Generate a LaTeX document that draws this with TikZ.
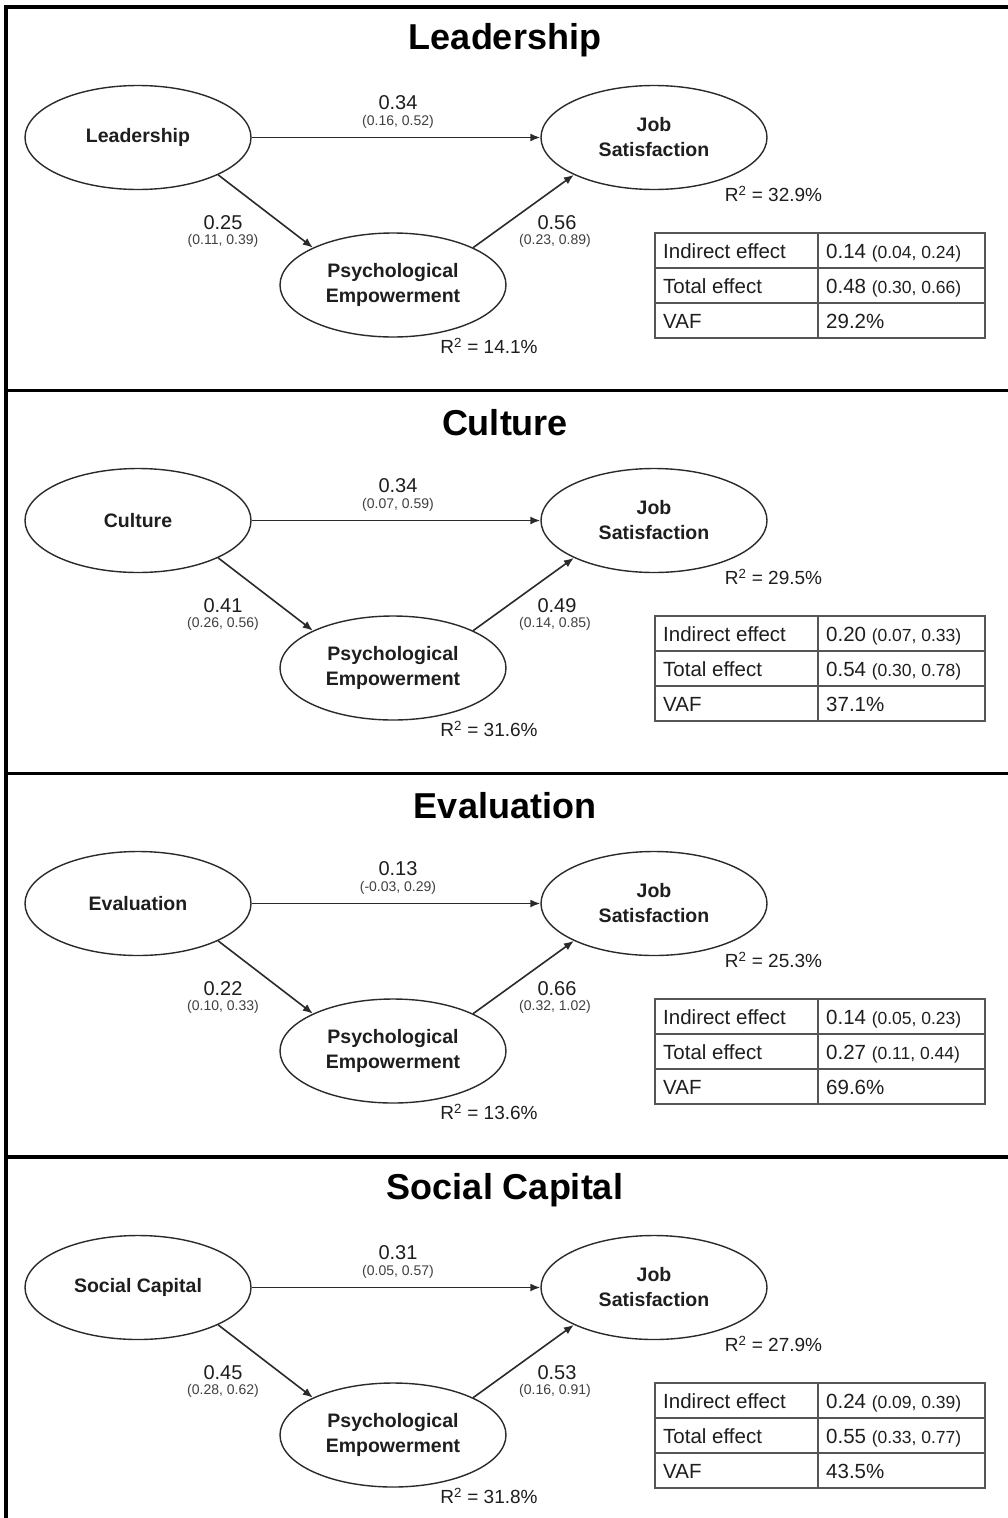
\documentclass[tikz,border=0pt]{standalone}
\usepackage{fontspec}
\setmainfont{Liberation Sans}
\usetikzlibrary{shapes.geometric,arrows.meta}
\definecolor{txt}{HTML}{1E1E1E}
\definecolor{linec}{HTML}{2A2A2A}
\definecolor{tabc}{HTML}{555555}

\newcommand\mypanel[9]{%
  \node[ttl] (t#9) at (505,40) {#1};
  \node[lat] (l#9) at (138,137.5) {\raisebox{-2pt}{#2}};
  \node[lat] (j#9) at (654,137.5) {Job\\Satisfaction};
  \node[lat] (p#9) at (393,285) {Psychological\\Empowerment};
  \draw[pth] (l#9.east) -- (j#9.west);
  \draw[pth] (l#9.-25) -- (p#9.155);
  \draw[pth] (p#9.25) -- (j#9.205);
  \node[coef] (ca#9) at (398,103) {#3};
  \node[ci] (cb#9) at (398,122) {#4};
  \node[coef] (cc#9) at (223,222.5) {#5};
  \node[ci] (cd#9) at (223,240.5) {#6};
  \node[coef] (ce#9) at (557,222.5) {#7};
  \node[ci] (cf#9) at (555,240.5) {#8};
}
\newcommand\mytable[8]{%
  \node[rsq] (ra#8) at (773.5,194) {R\textsuperscript{2} = #1};
  \node[rsq] (rb#8) at (489,346) {R\textsuperscript{2} = #2};
  \draw[tab] (655,233) rectangle (985,338);
  \draw[tab] (655,268) -- (985,268);
  \draw[tab] (655,303) -- (985,303);
  \draw[tab] (818,233) -- (818,338);
  \node[tabt] (ta#8) at (663,258) {Indirect effect};
  \node[tabt] (tb#8) at (663,293) {Total effect};
  \node[tabt] (tc#8) at (663,328) {VAF};
  \node[tabt] (td#8) at (826,258) {#3 {\tabci #4}};
  \node[tabt] (te#8) at (826,293) {#5 {\tabci #6}};
  \node[tabt] (tf#8) at (826,328) {#7};
}
\newcommand\tabci{\fontsize{17.5}{19}\selectfont}

\begin{document}
\begin{tikzpicture}[x=1pt,y=-1pt,
  ttl/.style={font=\fontsize{36}{40}\selectfont\bfseries, text=black, inner sep=0pt},
  lat/.style={draw=linec, line width=1.4pt, ellipse, minimum width=226pt, minimum height=104pt,
              inner sep=0pt, align=center, text=txt, font=\fontsize{19.5}{25}\selectfont\bfseries},
  pth/.style={draw=linec, line width=1.6pt, -{Latex[length=10pt,width=8pt]}},
  coef/.style={font=\fontsize{20}{22}\selectfont, text=txt, inner sep=0pt},
  ci/.style={font=\fontsize{14}{15}\selectfont, text=txt!85, inner sep=0pt},
  rsq/.style={font=\fontsize{19}{22}\selectfont, text=txt, inner sep=0pt},
  tab/.style={draw=tabc, line width=1.3pt},
  tabt/.style={font=\fontsize{20.5}{22}\selectfont, text=txt, inner sep=0pt, anchor=base west}
]
\useasboundingbox (0,0) rectangle (1008,1518);
\fill[white] (0,0) rectangle (1008,1518);

% outer frame and dividers
\draw[line width=3.5pt, line cap=rect] (6,1518) -- (6,7) -- (1008,7);
\draw[line width=3.5pt] (6,390.5) -- (1008,390.5);
\draw[line width=3.5pt] (6,773.5) -- (1008,773.5);
\draw[line width=3.5pt] (6,1157) -- (1008,1157);

\begin{scope}
  \mypanel{Leadership}{Leadership}{0.34}{(0.16, 0.52)}{0.25}{(0.11, 0.39)}{0.56}{(0.23, 0.89)}{1}
  \mytable{32.9\%}{14.1\%}{0.14}{(0.04, 0.24)}{0.48}{(0.30, 0.66)}{29.2\%}{1}
\end{scope}
\begin{scope}[shift={(0,383)}]
  \mypanel{Culture}{Culture}{0.34}{(0.07, 0.59)}{0.41}{(0.26, 0.56)}{0.49}{(0.14, 0.85)}{2}
  \mytable{29.5\%}{31.6\%}{0.20}{(0.07, 0.33)}{0.54}{(0.30, 0.78)}{37.1\%}{2}
\end{scope}
\begin{scope}[shift={(0,766)}]
  \mypanel{Evaluation}{Evaluation}{0.13}{(-0.03, 0.29)}{0.22}{(0.10, 0.33)}{0.66}{(0.32, 1.02)}{3}
  \mytable{25.3\%}{13.6\%}{0.14}{(0.05, 0.23)}{0.27}{(0.11, 0.44)}{69.6\%}{3}
\end{scope}
\begin{scope}[shift={(0,1150)}]
  \mypanel{Social Capital}{Social Capital}{0.31}{(0.05, 0.57)}{0.45}{(0.28, 0.62)}{0.53}{(0.16, 0.91)}{4}
  \mytable{27.9\%}{31.8\%}{0.24}{(0.09, 0.39)}{0.55}{(0.33, 0.77)}{43.5\%}{4}
\end{scope}
\end{tikzpicture}
\end{document}
